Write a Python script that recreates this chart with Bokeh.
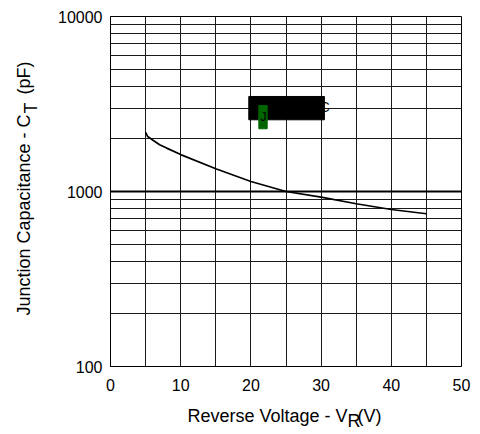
import math
from bokeh.plotting import figure
from bokeh.models import FixedTicker, NumeralTickFormatter, Grid, Label
from bokeh.embed import file_html
from bokeh.resources import INLINE

# ---- data ----
voltage = [5, 5.3, 6, 7, 8, 10, 15, 20, 25, 30, 35, 40, 45]
capacitance = [2180, 2060, 1970, 1850, 1770, 1625, 1350, 1140, 1000, 928, 851, 789, 746]

x_ticks = [0, 10, 20, 30, 40, 50]
x_grid = [0, 5, 10, 15, 20, 25, 30, 35, 40, 45, 50]
y_ticks = [100, 1000, 10000]
y_grid = [100, 200, 300, 400, 500, 600, 700, 800, 900,
          1000, 2000, 3000, 4000, 5000, 6000, 7000, 8000, 9000, 10000]
y_bold = [1000]

# obscured legend block (data coordinates)
box_left, box_right, box_bottom, box_top = [19.70], [30.47], [2569], [3491]
mark_left, mark_right, mark_bottom, mark_top = [21.13], [22.32], [2282], [3100]
legend_t_x, legend_eq_x, legend_y = 20.06, 24.63, 2754
legend_sub_x, legend_sub_y = 21.37, 2415

FONT = "Liberation Sans"
FW, FH = 351, 350
X0, X1 = 0, 50
DECADES = 2
NB = "\u00a0"


def fx(px):
    """frame pixel offset (from left) -> data x"""
    return X0 + px / FW * (X1 - X0)


def fy(px):
    """frame pixel offset (from bottom, up positive) -> data y on log axis"""
    return 10 ** (2 + px / FH * DECADES)


p = figure(frame_width=FW, frame_height=FH,
           x_range=(X0, X1), y_range=(100, 10000), y_axis_type="log",
           output_backend="svg", toolbar_location=None,
           min_border_left=110, min_border_right=15,
           min_border_top=16, min_border_bottom=68)
p.background_fill_color = "white"
p.border_fill_color = "white"
p.outline_line_color = "black"
p.outline_line_width = 1

# axes
p.xaxis.ticker = FixedTicker(ticks=x_ticks)
p.yaxis.ticker = FixedTicker(ticks=y_ticks)
p.yaxis.formatter = NumeralTickFormatter(format="0")
for ax in (p.xaxis, p.yaxis):
    ax.major_tick_in = 0
    ax.major_tick_out = 0
    ax.minor_tick_line_color = None
    ax.axis_line_color = "black"
    ax.major_label_text_font = FONT
    ax.major_label_text_font_size = "16px"
    ax.major_label_text_color = "black"
p.xaxis.major_label_standoff = 12
p.yaxis.major_label_standoff = 8

# grids
p.xgrid.ticker = FixedTicker(ticks=x_grid)
p.ygrid.ticker = FixedTicker(ticks=y_grid)
for g in (p.xgrid, p.ygrid):
    g.grid_line_color = "#1a1a1a"
    g.grid_line_width = 1
p.add_layout(Grid(dimension=1, ticker=FixedTicker(ticks=y_bold),
                  grid_line_color="black", grid_line_width=2))

# curve
p.line(voltage, capacitance, line_color="black", line_width=1.7)

# legend block
p.quad(left=box_left, right=box_right, bottom=box_bottom, top=box_top,
       fill_color="black", line_color="black")
p.quad(left=mark_left, right=mark_right, bottom=mark_bottom, top=mark_top,
       fill_color="#006600", line_color="#006600")
p.add_layout(Label(x=legend_t_x, y=legend_y, text="T", text_align="left",
                   text_font=FONT, text_font_size="15px", text_color="black"))
p.add_layout(Label(x=legend_sub_x, y=legend_sub_y, text="J", text_align="left",
                   text_font=FONT, text_font_size="12px", text_color="black"))
p.add_layout(Label(x=legend_eq_x, y=legend_y, text="= 25°C", text_align="left",
                   text_font=FONT, text_font_size="15px", text_color="black"))

# axis titles: kept in side panels (so they are not clipped), positioned in data units
lab = dict(text_font=FONT, text_font_size="18px", text_color="black",
           text_baseline="alphabetic", text_align="left")
p.add_layout(Label(x=fx(77), y=fy(-49), text="Reverse Voltage - V" + NB * 2 + "(V)", **lab), "below")
p.add_layout(Label(x=fx(237), y=fy(-54), text="R", **lab), "right")

ang = math.pi / 2
p.add_layout(Label(x=fx(-87), y=fy(51), angle=ang,
                   text="Junction Capacitance - C" + NB * 4 + "(pF)", **lab), "left")
p.add_layout(Label(x=fx(-80), y=fy(253), angle=ang, text="T", **lab), "left")

open("out.html", "w").write(file_html(p, INLINE))
